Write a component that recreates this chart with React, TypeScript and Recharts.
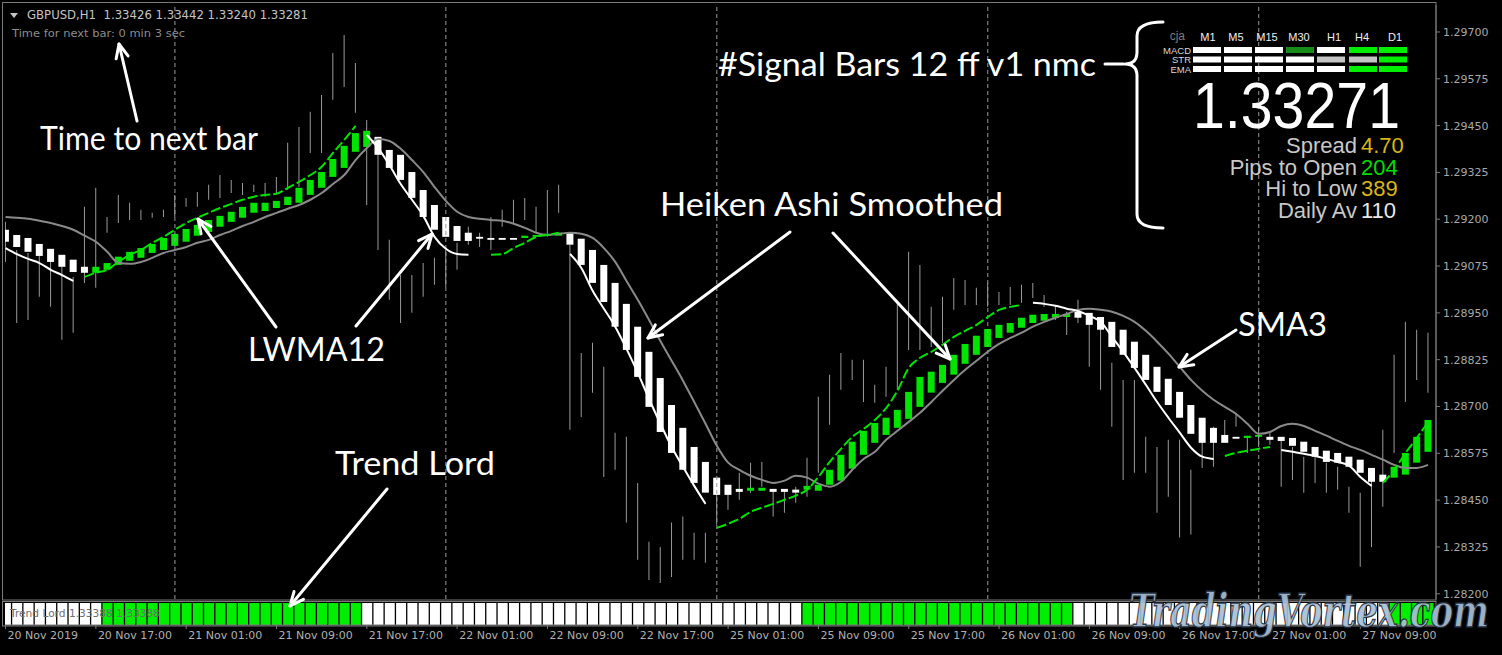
import React from 'react';
import { ComposedChart, Bar, Line, XAxis, YAxis, Cell, ReferenceLine } from 'recharts';

// GBPUSD H1, 20 Nov 09:00 .. 27 Nov 15:00 (127 bars)
const barHigh = [
  1.29193, 1.29118, 1.2911, 1.2911, 1.2911, 1.29073, 1.29046, 1.29233, 1.29284, 1.29206,
  1.29265, 1.29244, 1.29225, 1.29217, 1.29225, 1.29265, 1.29257, 1.29273, 1.29292, 1.29318,
  1.29305, 1.29297, 1.29292, 1.29297, 1.29313, 1.29404, 1.29446, 1.29487, 1.29532, 1.29644,
  1.29692, 1.29617, 1.29465, 1.29385, 1.29145, 1.29051, 1.29051, 1.29083, 1.29097, 1.29118,
  1.29137, 1.2918, 1.29164, 1.29206, 1.29225, 1.29252, 1.29257, 1.29233, 1.29278, 1.29292,
  1.29132, 1.28843, 1.2887, 1.28806, 1.2863, 1.28619, 1.28496, 1.28339, 1.28325, 1.2839,
  1.28406, 1.28363, 1.28363, 1.2847, 1.28486, 1.28523, 1.2855, 1.28552, 1.28478, 1.28478,
  1.28486, 1.28563, 1.28726, 1.28785, 1.28843, 1.28825, 1.28825, 1.28758, 1.28806, 1.28977,
  1.29113, 1.29078, 1.28966, 1.28993, 1.29043, 1.29038, 1.29017, 1.2903, 1.29006, 1.29019,
  1.29025, 1.2903, 1.28998, 1.28971, 1.28953, 1.28985, 1.28945, 1.28923, 1.28817, 1.28771,
  1.28771, 1.28619, 1.28592, 1.28611, 1.28611, 1.28531, 1.28659, 1.28646, 1.28664, 1.28683,
  1.28619, 1.28646, 1.2863, 1.28616, 1.28592, 1.28566, 1.28566, 1.2855, 1.28539, 1.28486,
  1.2847, 1.28512, 1.28638, 1.28838, 1.28926, 1.28905, 1.28897,
];
const barLow = [
  1.29086, 1.28923, 1.28931, 1.28993, 1.28966, 1.28878, 1.28897, 1.2903, 1.29017, 1.29164,
  1.2919, 1.29198, 1.29198, 1.29204, 1.29206, 1.29206, 1.29233, 1.29233, 1.29252, 1.29257,
  1.2927, 1.29265, 1.29273, 1.2926, 1.2927, 1.29278, 1.29286, 1.29377, 1.29377, 1.29519,
  1.29553, 1.29484, 1.29238, 1.29118, 1.28985, 1.28923, 1.2895, 1.28993, 1.29025, 1.29019,
  1.29065, 1.29132, 1.29126, 1.29118, 1.2918, 1.2919, 1.29198, 1.29164, 1.29153, 1.29217,
  1.28638, 1.28672, 1.28737, 1.28512, 1.28531, 1.2839, 1.28291, 1.28237, 1.28229, 1.28245,
  1.28291, 1.28291, 1.28283, 1.28384, 1.28424, 1.28451, 1.2847, 1.28486, 1.28406, 1.28416,
  1.28443, 1.28459, 1.28523, 1.28651, 1.28745, 1.28771, 1.28712, 1.2871, 1.28726, 1.28745,
  1.28851, 1.28851, 1.28859, 1.2887, 1.28958, 1.28971, 1.28971, 1.28966, 1.28971, 1.28971,
  1.28977, 1.2899, 1.28966, 1.28931, 1.28891, 1.28923, 1.28806, 1.28745, 1.28646, 1.28504,
  1.28523, 1.28523, 1.28416, 1.28459, 1.2835, 1.28358, 1.28536, 1.28539, 1.28619, 1.28646,
  1.28576, 1.28592, 1.28598, 1.28486, 1.28504, 1.2847, 1.28496, 1.2847, 1.28478, 1.28416,
  1.28272, 1.28325, 1.28432, 1.28576, 1.28712, 1.28771, 1.28737,
];
const haOpen = [
  1.29172, 1.29158, 1.2915, 1.29134, 1.29121, 1.29105, 1.29092, 1.29073, 1.29057, 1.29065,
  1.29078, 1.29089, 1.29097, 1.2911, 1.29118, 1.29129, 1.2914, 1.29156, 1.29166, 1.2918,
  1.29193, 1.29204, 1.29217, 1.29222, 1.2923, 1.29238, 1.29244, 1.29265, 1.29284, 1.29313,
  1.29337, 1.2938, 1.29393, 1.2942, 1.29385, 1.29372, 1.29326, 1.29278, 1.29238, 1.29206,
  1.29182, 1.29164, 1.29153, 1.2915, 1.2915, 1.2915, 1.2915, 1.29153, 1.29156, 1.29156,
  1.29164, 1.29148, 1.29118, 1.29078, 1.2903, 1.28974, 1.28913, 1.28846, 1.28776, 1.28704,
  1.28643, 1.28592, 1.28552, 1.2851, 1.28491, 1.2848, 1.28475, 1.28475, 1.2848, 1.2848,
  1.28478, 1.28478, 1.28475, 1.28491, 1.28502, 1.28534, 1.28571, 1.28603, 1.28624, 1.28643,
  1.28667, 1.28699, 1.28737, 1.28763, 1.28785, 1.28814, 1.28838, 1.28859, 1.28883, 1.28897,
  1.2891, 1.28923, 1.28929, 1.28937, 1.28939, 1.28953, 1.2895, 1.28939, 1.28926, 1.28905,
  1.28873, 1.28838, 1.28806, 1.28774, 1.28739, 1.28704, 1.2867, 1.28643, 1.28624, 1.28619,
  1.28616, 1.28619, 1.28619, 1.28619, 1.28616, 1.28606, 1.28592, 1.28582, 1.28576, 1.28566,
  1.28558, 1.28536, 1.28518, 1.2851, 1.28518, 1.2855, 1.28579,
];
const haClose = [
  1.2914, 1.29126, 1.29113, 1.29102, 1.29086, 1.29073, 1.29059, 1.29057, 1.29073, 1.29083,
  1.291, 1.29113, 1.29123, 1.29134, 1.2915, 1.29161, 1.29174, 1.29185, 1.29198, 1.29209,
  1.2922, 1.29233, 1.29244, 1.29244, 1.29249, 1.2926, 1.29284, 1.29305, 1.29326, 1.29361,
  1.29396, 1.2943, 1.29436, 1.29372, 1.29337, 1.29305, 1.29257, 1.29206, 1.29172, 1.29153,
  1.29142, 1.29142, 1.29148, 1.29145, 1.29145, 1.29145, 1.29156, 1.29158, 1.29161, 1.29164,
  1.29132, 1.29078, 1.2903, 1.28979, 1.28913, 1.28851, 1.28779, 1.28699, 1.28632, 1.28576,
  1.28531, 1.28496, 1.2847, 1.28464, 1.28464, 1.28472, 1.28483, 1.28483, 1.28472, 1.28472,
  1.2847, 1.28488, 1.28491, 1.28531, 1.28571, 1.28606, 1.28635, 1.28656, 1.2867, 1.28691,
  1.28739, 1.28779, 1.28793, 1.28811, 1.28838, 1.28867, 1.28889, 1.28907, 1.28918, 1.28923,
  1.28937, 1.28945, 1.28947, 1.28947, 1.28947, 1.28937, 1.28918, 1.28905, 1.28859, 1.28838,
  1.28803, 1.28771, 1.28739, 1.28704, 1.2867, 1.28627, 1.28603, 1.28603, 1.28603, 1.28614,
  1.28622, 1.28624, 1.28611, 1.28608, 1.28595, 1.28579, 1.28566, 1.28552, 1.2855, 1.28539,
  1.28523, 1.28499, 1.28499, 1.28539, 1.28576, 1.28619, 1.28664,
];
const sma3 = [
  1.29206, 1.29204, 1.29201, 1.29196, 1.2919, 1.29182, 1.29172, 1.29156, 1.2914, 1.29113,
  1.29083, 1.29081, 1.29086, 1.29097, 1.2911, 1.29118, 1.29126, 1.29137, 1.29145, 1.29158,
  1.29169, 1.29182, 1.29193, 1.29206, 1.29217, 1.29228, 1.29238, 1.29252, 1.2927, 1.29294,
  1.29318, 1.29358, 1.2939, 1.29414, 1.29409, 1.29388, 1.29358, 1.29326, 1.29286, 1.29249,
  1.2922, 1.29206, 1.29201, 1.29198, 1.29196, 1.29188, 1.29177, 1.29164, 1.29158, 1.29161,
  1.29164, 1.29161, 1.2915, 1.29123, 1.29086, 1.29035, 1.28985, 1.28931, 1.28875, 1.28822,
  1.28769, 1.28712, 1.28654, 1.28595, 1.2855, 1.28531, 1.28515, 1.28504, 1.28496, 1.28502,
  1.28515, 1.2851, 1.28494, 1.28486, 1.28499, 1.28531, 1.2856, 1.28579, 1.28611, 1.28635,
  1.28659, 1.28683, 1.28712, 1.28742, 1.28771, 1.28798, 1.28822, 1.28846, 1.28867, 1.28883,
  1.28897, 1.28913, 1.28926, 1.28937, 1.28947, 1.28958, 1.28961, 1.28958, 1.28953, 1.28942,
  1.28926, 1.28902, 1.28873, 1.28841, 1.28806, 1.28771, 1.28742, 1.28718, 1.28699, 1.2868,
  1.28654, 1.28627, 1.28632, 1.28648, 1.28654, 1.28648, 1.28635, 1.28622, 1.28608, 1.28595,
  1.28584, 1.28571, 1.28558, 1.28544, 1.28536, 1.28536, 1.28544,
];
const lwma12 = [
  1.29123, 1.29107, 1.29094, 1.29083, 1.29065, 1.29051, 1.29035, 1.29046, 1.29057, 1.29065,
  1.29086, 1.29105, 1.29118, 1.29137, 1.29153, 1.29172, 1.2919, 1.29204, 1.29217, 1.2923,
  1.29241, 1.29252, 1.2926, 1.29265, 1.29268, 1.29284, 1.293, 1.29318, 1.2934, 1.29377,
  1.29412, 1.29449, 1.29425, 1.2939, 1.29345, 1.29294, 1.29252, 1.29209, 1.29153, 1.29121,
  1.29107, 1.29105, null, 1.29105, 1.29107, 1.29123, 1.29137, 1.29153, 1.29158, 1.29164,
  1.29107, 1.2907, 1.29009, 1.28961, 1.28913, 1.28854, 1.2879, 1.2872, 1.28654, 1.28592,
  1.28539, 1.28488, 1.2844, 1.28376, 1.28387, 1.284, 1.28419, 1.2843, 1.2844, 1.28451,
  1.28462, 1.28478, 1.28512, 1.28552, 1.28587, 1.28619, 1.2864, 1.28664, 1.28696, 1.28742,
  1.28803, 1.2883, 1.28846, 1.28865, 1.28886, 1.28902, 1.28918, 1.28939, 1.28958, 1.28966,
  1.28971, 1.28977, 1.28974, 1.28969, 1.28961, 1.28955, 1.28942, 1.28926, 1.28886, 1.28846,
  1.28803, 1.28758, 1.28712, 1.2867, 1.2863, 1.2859, 1.28566, 1.2856, 1.28568, 1.28576,
  1.28582, 1.28587, 1.28592, 1.28584, 1.28579, 1.28574, 1.28568, 1.2856, 1.28552, 1.28542,
  1.28512, 1.28488, 1.28496, 1.28531, 1.28576, 1.28616, 1.28659,
];
// run lengths: W = falling (white), G = rising (green), - = no value
const lwmaTrendRuns: [string, number][] = [
  ['W', 7], ['G', 25], ['W', 10], ['-', 1], ['G', 7], ['W', 13], ['G', 28], ['W', 17], ['G', 5], ['W', 9], ['G', 5],
];
const trendLordRuns: [string, number][] = [
  ['w', 9], ['g', 23], ['w', 39], ['g', 24], ['w', 28], ['g', 4],
];
const timeTicks = [0, 8, 16, 24, 32, 40, 48, 56, 64, 72, 80, 88, 96, 104, 112, 120];
const timeLabels = [
  '20 Nov 2019', '20 Nov 17:00', '21 Nov 01:00', '21 Nov 09:00', '21 Nov 17:00', '22 Nov 01:00',
  '22 Nov 09:00', '22 Nov 17:00', '25 Nov 01:00', '25 Nov 09:00', '25 Nov 17:00', '26 Nov 01:00',
  '26 Nov 09:00', '26 Nov 17:00', '27 Nov 01:00', '27 Nov 09:00',
];
const dayBreaks = [15, 39, 63, 87, 111];
const priceTicks = [
  1.282, 1.28325, 1.2845, 1.28575, 1.287, 1.28825, 1.2895, 1.29075, 1.292, 1.29325, 1.2945, 1.29575, 1.297,
];

// signal bars panel
const tfLabels = ['M1', 'M5', 'M15', 'M30', 'H1', 'H4', 'D1'];
const tfLabelX = [1208, 1236, 1267, 1299, 1334, 1362, 1395];
const signalRows = ['MACD', 'STR', 'EMA'];
const signalStates = [
  ['w', 'w', 'w', 'd', 'w', 'g', 'g'],
  ['w', 'w', 'w', 'w', 's', 's', 'g'],
  ['w', 'w', 'w', 'w', 'w', 'g', 'g'],
];
const stats = [
  ['Spread', '4.70', '#d9b41a'],
  ['Pips to Open', '204', '#00dd00'],
  ['Hi to Low', '389', '#d9b41a'],
  ['Daily Av', '110', '#e8e8e8'],
];

const GREEN = '#00e400';
const X_DOMAIN: [number, number] = [-0.05, 126.7];
const Y_DOMAIN: [number, number] = [1.28186, 1.29772];

const expand = (runs: [string, number][]) => runs.flatMap(([c, n]) => Array(n).fill(c) as string[]);
const lwmaTrend = expand(lwmaTrendRuns);
const trendLord = expand(trendLordRuns);

const rows = barHigh.map((h, i) => {
  const o = haOpen[i];
  const c = haClose[i];
  return {
    i,
    wick: [barLow[i], h],
    ha: [Math.min(o, c), Math.max(o, c)],
    haUp: c > o,
    sma: sma3[i],
    lwmaDn: lwmaTrend[i] === 'W' ? lwma12[i] : null,
    lwmaUp: lwmaTrend[i] === 'G' ? lwma12[i] : null,
    tl: 1,
    tlUp: trendLord[i] === 'g',
  };
});

const cellColor: Record<string, string> = { w: '#ffffff', g: '#00ee00', d: '#188c18', s: '#c4c4c4' };

function TimeTick(props: any) {
  const { x, y, payload } = props;
  const k = timeTicks.indexOf(payload.value);
  return (
    <text x={x + 2} y={y} dy="0.71em" fill="#b0b0b0" fontSize={11} fontFamily="DejaVu Sans" textAnchor="start">
      {k >= 0 ? timeLabels[k] : ''}
    </text>
  );
}

function Arrow({ x1, y1, x2, y2 }: { x1: number; y1: number; x2: number; y2: number }) {
  const a = Math.atan2(y2 - y1, x2 - x1);
  const L = 15;
  const s = 0.42;
  const p1 = [x2 - L * Math.cos(a - s), y2 - L * Math.sin(a - s)];
  const p2 = [x2 - L * Math.cos(a + s), y2 - L * Math.sin(a + s)];
  return (
    <g stroke="#fff" strokeWidth={3} strokeLinecap="round" strokeLinejoin="round" fill="none">
      <line x1={x1} y1={y1} x2={x2} y2={y2} />
      <polyline points={`${p1[0]},${p1[1]} ${x2},${y2} ${p2[0]},${p2[1]}`} />
    </g>
  );
}

function Label({ x, y, w, children }: { x: number; y: number; w: number; children: string }) {
  return (
    <text x={x} y={y} fill="#fff" fontSize={32} fontFamily="Lato" textLength={w} lengthAdjust="spacingAndGlyphs">
      {children}
    </text>
  );
}

function Overlay() {
  const cellX = [1193, 1224, 1255, 1286, 1317, 1349, 1379];
  const rowY = [47, 56.5, 66];
  return (
    <svg width={1502} height={655} style={{ position: 'absolute', left: 0, top: 0, pointerEvents: 'none' }}>
      {/* window frames */}
      <g fill="none" stroke="#7a7a7a" strokeWidth={1}>
        <rect x={2.5} y={2.5} width={1433.5} height={597.5} />
        <rect x={2.5} y={601.5} width={1433.5} height={24.5} />
      </g>

      {/* header */}
      <polygon points="10,13 18,13 14,18" fill="#c4c4c4" />
      <text x={27} y={19} fill="#c4c4c4" fontSize={11.5} fontFamily="DejaVu Sans" textLength={281} lengthAdjust="spacingAndGlyphs">
        {'GBPUSD,H1\u00a0\u00a01.33426 1.33442 1.33240 1.33281'}
      </text>
      <text x={12} y={37} fill="#8c8c8c" fontSize={11} fontFamily="DejaVu Sans" textLength={173} lengthAdjust="spacingAndGlyphs">
        Time for next bar: 0 min 3 sec
      </text>

      {/* trend lord caption */}
      <text x={10} y={617} fill="#6e6e6e" fontSize={11} fontFamily="DejaVu Sans" textLength={150} lengthAdjust="spacingAndGlyphs">
        Trend Lord 1.33388 1.33388
      </text>

      {/* annotations */}
      <Label x={40} y={150} w={218}>Time to next bar</Label>
      <Arrow x1={137} y1={121} x2={119} y2={44} />
      <Label x={248} y={361} w={137}>LWMA12</Label>
      <Arrow x1={276} y1={327} x2={198} y2={219} />
      <Arrow x1={356} y1={326} x2={432} y2={234} />
      <Label x={335} y={475} w={160}>Trend Lord</Label>
      <Arrow x1={387} y1={489} x2={290} y2={606} />
      <Label x={660} y={216} w={343}>Heiken Ashi Smoothed</Label>
      <Arrow x1={790} y1={232} x2={648} y2={338} />
      <Arrow x1={833} y1={233} x2={950} y2={359} />
      <Label x={1238} y={336} w={89}>SMA3</Label>
      <Arrow x1={1236} y1={330} x2={1179} y2={367} />
      <Label x={718} y={76} w={378}>#Signal Bars 12 ff v1 nmc</Label>
      <g stroke="#fff" strokeWidth={3} fill="none" strokeLinecap="round">
        <line x1={1105} y1={64} x2={1124} y2={64} />
        <path d="M1163,22 Q1137,22 1137,36 L1137,52 Q1137,64 1125,64 Q1137,64 1137,76 L1137,214 Q1137,228 1163,228" />
      </g>

      {/* signal bars panel */}
      <text x={1185} y={40} fill="#7c7c7c" fontSize={12} fontFamily="Liberation Sans" textAnchor="end">cja</text>
      {tfLabels.map((t, k) => (
        <text key={t} x={tfLabelX[k]} y={41} fill="#f0f0f0" fontSize={11} fontFamily="Liberation Sans" textAnchor="middle">
          {t}
        </text>
      ))}
      {signalRows.map((r, j) => (
        <text key={r} x={1191} y={rowY[j] + 6.5} fill="#d8d8d8" fontSize={9.5} fontFamily="Liberation Sans" textAnchor="end">
          {r}
        </text>
      ))}
      {signalStates.map((row, j) =>
        row.map((s, k) => <rect key={`${j}-${k}`} x={cellX[k]} y={rowY[j]} width={28} height={6} fill={cellColor[s]} />)
      )}
      <text x={1193} y={128} fill="#fff" fontSize={64} fontFamily="Liberation Sans" textLength={207} lengthAdjust="spacingAndGlyphs">
        1.33271
      </text>
      {stats.map(([name, val, col], k) => (
        <g key={name} fontSize={22} fontFamily="Liberation Sans">
          <text x={1357} y={153 + k * 21.5} fill="#c8c8c8" textAnchor="end">{name}</text>
          <text x={1361} y={153 + k * 21.5} fill={col}>{val}</text>
        </g>
      ))}

      {/* watermark */}
      <text x={1129} y={627} fontSize={46} fontFamily="DejaVu Serif" fontStyle="italic" fontWeight="bold"
        fill="#a9bfd4" stroke="#1f2e40" strokeWidth={1.3} textLength={360} lengthAdjust="spacingAndGlyphs" opacity={0.92}>
        TradingVortex.com
      </text>
    </svg>
  );
}

export default function App() {
  return (
    <div style={{ position: 'absolute', left: 0, top: 0, width: 1502, height: 655, background: '#000', overflow: 'hidden' }}>
      <div style={{ position: 'absolute', left: 0, top: 0 }}>
        <ComposedChart width={1502} height={600} data={rows} margin={{ top: 5, right: 0, bottom: 1, left: 5 }}>
          <XAxis xAxisId="wick" dataKey="i" type="number" domain={X_DOMAIN} allowDataOverflow hide />
          <XAxis xAxisId="ha" dataKey="i" type="number" domain={X_DOMAIN} allowDataOverflow hide />
          <XAxis xAxisId="line" dataKey="i" type="number" domain={X_DOMAIN} allowDataOverflow hide />
          <YAxis
            orientation="right"
            width={66}
            type="number"
            domain={Y_DOMAIN}
            allowDataOverflow
            ticks={priceTicks}
            interval={0}
            tickFormatter={(v: number) => v.toFixed(5)}
            tick={{ fill: '#a8a8a8', fontSize: 11, fontFamily: 'DejaVu Sans' }}
            tickSize={4}
            tickMargin={3}
            axisLine={{ stroke: '#7a7a7a' }}
            tickLine={{ stroke: '#7a7a7a' }}
          />
          {dayBreaks.map((d) => (
            <ReferenceLine key={d} xAxisId="line" x={d} stroke="#9a9a9a" strokeDasharray="4 3" />
          ))}
          <Bar xAxisId="wick" dataKey="wick" barSize={1} fill="#9a9a9a" isAnimationActive={false} />
          <Bar xAxisId="ha" dataKey="ha" barSize={7} isAnimationActive={false}>
            {rows.map((r) => (
              <Cell key={r.i} fill={r.haUp ? GREEN : '#ffffff'} />
            ))}
          </Bar>
          <Line xAxisId="line" dataKey="sma" type="monotone" stroke="#8a8a8a" strokeWidth={2} dot={false} isAnimationActive={false} />
          <Line xAxisId="line" dataKey="lwmaDn" type="monotone" stroke="#ffffff" strokeWidth={2} dot={false} connectNulls={false} isAnimationActive={false} />
          <Line xAxisId="line" dataKey="lwmaUp" type="monotone" stroke={GREEN} strokeWidth={2} strokeDasharray="10 3" dot={false} connectNulls={false} isAnimationActive={false} />
        </ComposedChart>
      </div>
      <div style={{ position: 'absolute', left: 0, top: 600 }}>
        <ComposedChart width={1502} height={55} data={rows} margin={{ top: 3, right: 66, bottom: 0, left: 5 }}>
          <XAxis
            dataKey="i"
            type="number"
            domain={X_DOMAIN}
            allowDataOverflow
            ticks={timeTicks}
            interval={0}
            height={30}
            tick={<TimeTick />}
            tickSize={4}
            tickMargin={2}
            axisLine={{ stroke: '#7a7a7a' }}
            tickLine={{ stroke: '#7a7a7a' }}
          />
          <YAxis hide domain={[0, 1]} />
          <Bar dataKey="tl" barSize={10} isAnimationActive={false}>
            {rows.map((r) => (
              <Cell key={r.i} fill={r.tlUp ? '#00ee00' : '#ffffff'} />
            ))}
          </Bar>
        </ComposedChart>
      </div>
      <Overlay />
    </div>
  );
}
